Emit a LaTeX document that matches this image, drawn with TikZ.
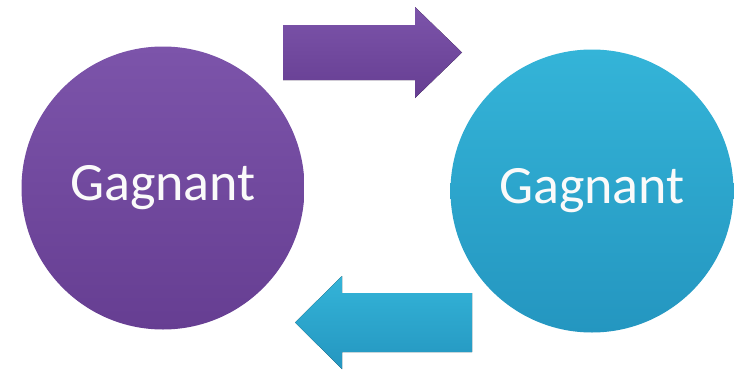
\documentclass[tikz,border=0pt]{standalone}
\usepackage{fontspec}
\setsansfont{Carlito}
\definecolor{purpleTop}{RGB}{124,84,170}
\definecolor{purpleBot}{RGB}{102,62,146}
\definecolor{tealTop}{RGB}{52,180,216}
\definecolor{tealBot}{RGB}{36,150,192}
\begin{document}
\begin{tikzpicture}[x=1pt, y=-1pt,
    winner/.style={circle, minimum size=283pt, inner sep=0pt, text=white!96!gray,
                   font=\sffamily\fontsize{54}{60}\selectfont},
    purplefill/.style={top color=purpleTop, bottom color=purpleBot},
    tealfill/.style={top color=tealTop, bottom color=tealBot}
  ]
  \fill[white] (0,0) rectangle (736,375);
  \useasboundingbox (0,0) rectangle (736,375);
  % the two circles
  \node[winner, purplefill] (gauche) at (163,188) {Gagnant};
  \node[winner, tealfill] (droite) at (592,191) {Gagnant};
  % arrow to the right, on top
  \fill[purplefill] (283,25) -- (415,25) -- (415,7) -- (462,52.5) -- (415,98)
    -- (415,80) -- (283,80) -- cycle;
  % arrow to the left, below
  \fill[tealfill] (472,293) -- (342,293) -- (342,276) -- (295,322.5) -- (342,369)
    -- (342,352) -- (472,352) -- cycle;
\end{tikzpicture}
\end{document}
